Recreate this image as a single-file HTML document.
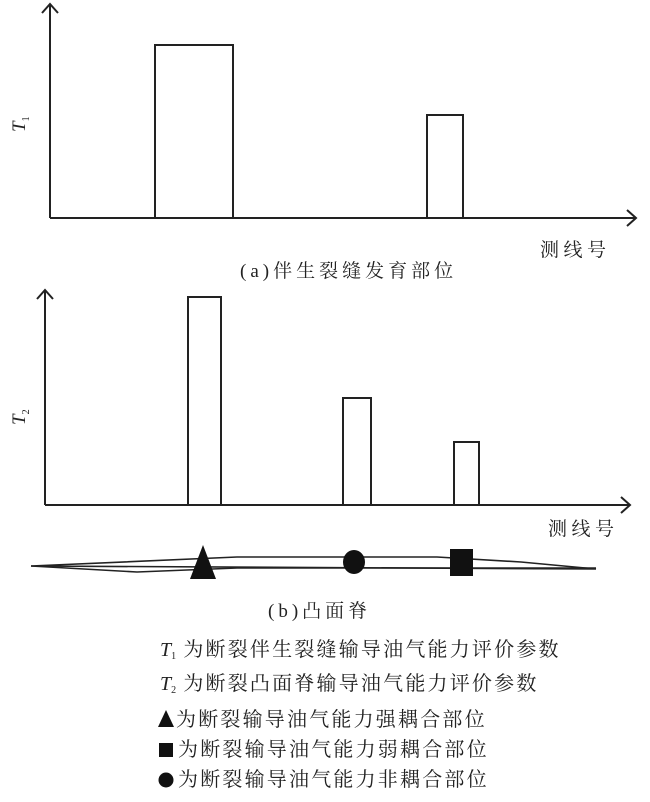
<!DOCTYPE html><html><head><style>body{margin:0;background:#fff}svg text{font-family:"Liberation Serif","Noto Serif CJK SC",serif;fill:#222}</style></head><body>
<svg width="650" height="797" viewBox="0 0 650 797" xmlns="http://www.w3.org/2000/svg">
<g stroke="#222" stroke-width="2" fill="none">
<path d="M50 218V4M42 13L50 4L58 13"/><path d="M50 218H636M627 210L636 218L627 226"/>
<rect x="155" y="45" width="78" height="173"/><rect x="427" y="115" width="36" height="103"/>
<path d="M45 505V290M37 299L45 290L53 299"/><path d="M45 505H630M621 497L630 505L621 513"/>
<rect x="188" y="297" width="33" height="208"/><rect x="343" y="398" width="28" height="107"/><rect x="454" y="442" width="25" height="63"/>
<path d="M31 566L237 557H437L521 562L596 569L31 566" stroke-width="1.6"/>
<path d="M31 566L137 572L237 568H596" stroke-width="1.6"/>
</g>
<polygon points="203,545 190,579 216,579" fill="#111"/>
<ellipse cx="354" cy="562" rx="11" ry="12" fill="#111"/>
<rect x="450" y="549" width="23" height="27" fill="#111"/>
<text x="0" y="0" font-size="19" font-style="italic" transform="translate(25,132) rotate(-90)">T<tspan font-size="10" dy="4" font-style="normal">1</tspan></text>
<text x="0" y="0" font-size="19" font-style="italic" transform="translate(25,425) rotate(-90)">T<tspan font-size="10" dy="4" font-style="normal">2</tspan></text>
<text x="540" y="256" font-size="19" letter-spacing="4.5">测线号</text>
<text x="548" y="535" font-size="19" letter-spacing="4.5">测线号</text>
<text x="240" y="277" font-size="19" letter-spacing="4">(a)伴生裂缝发育部位</text>
<text x="268" y="617" font-size="19" letter-spacing="4">(b)凸面脊</text>
<g font-size="20" letter-spacing="2.2">
<text x="160" y="656"><tspan font-style="italic" letter-spacing="0">T</tspan><tspan font-size="10" dy="3" letter-spacing="0">1</tspan><tspan dy="-3"> 为断裂伴生裂缝输导油气能力评价参数</tspan></text>
<text x="160" y="690"><tspan font-style="italic" letter-spacing="0">T</tspan><tspan font-size="10" dy="3" letter-spacing="0">2</tspan><tspan dy="-3"> 为断裂凸面脊输导油气能力评价参数</tspan></text>
<text x="176" y="726">为断裂输导油气能力强耦合部位</text>
<text x="178" y="756">为断裂输导油气能力弱耦合部位</text>
<text x="178" y="786">为断裂输导油气能力非耦合部位</text>
</g>
<polygon points="166,710 158,727 174,727" fill="#111"/>
<rect x="159" y="743" width="14" height="14" fill="#111"/>
<circle cx="166" cy="780" r="7.5" fill="#111"/>
</svg></body></html>
